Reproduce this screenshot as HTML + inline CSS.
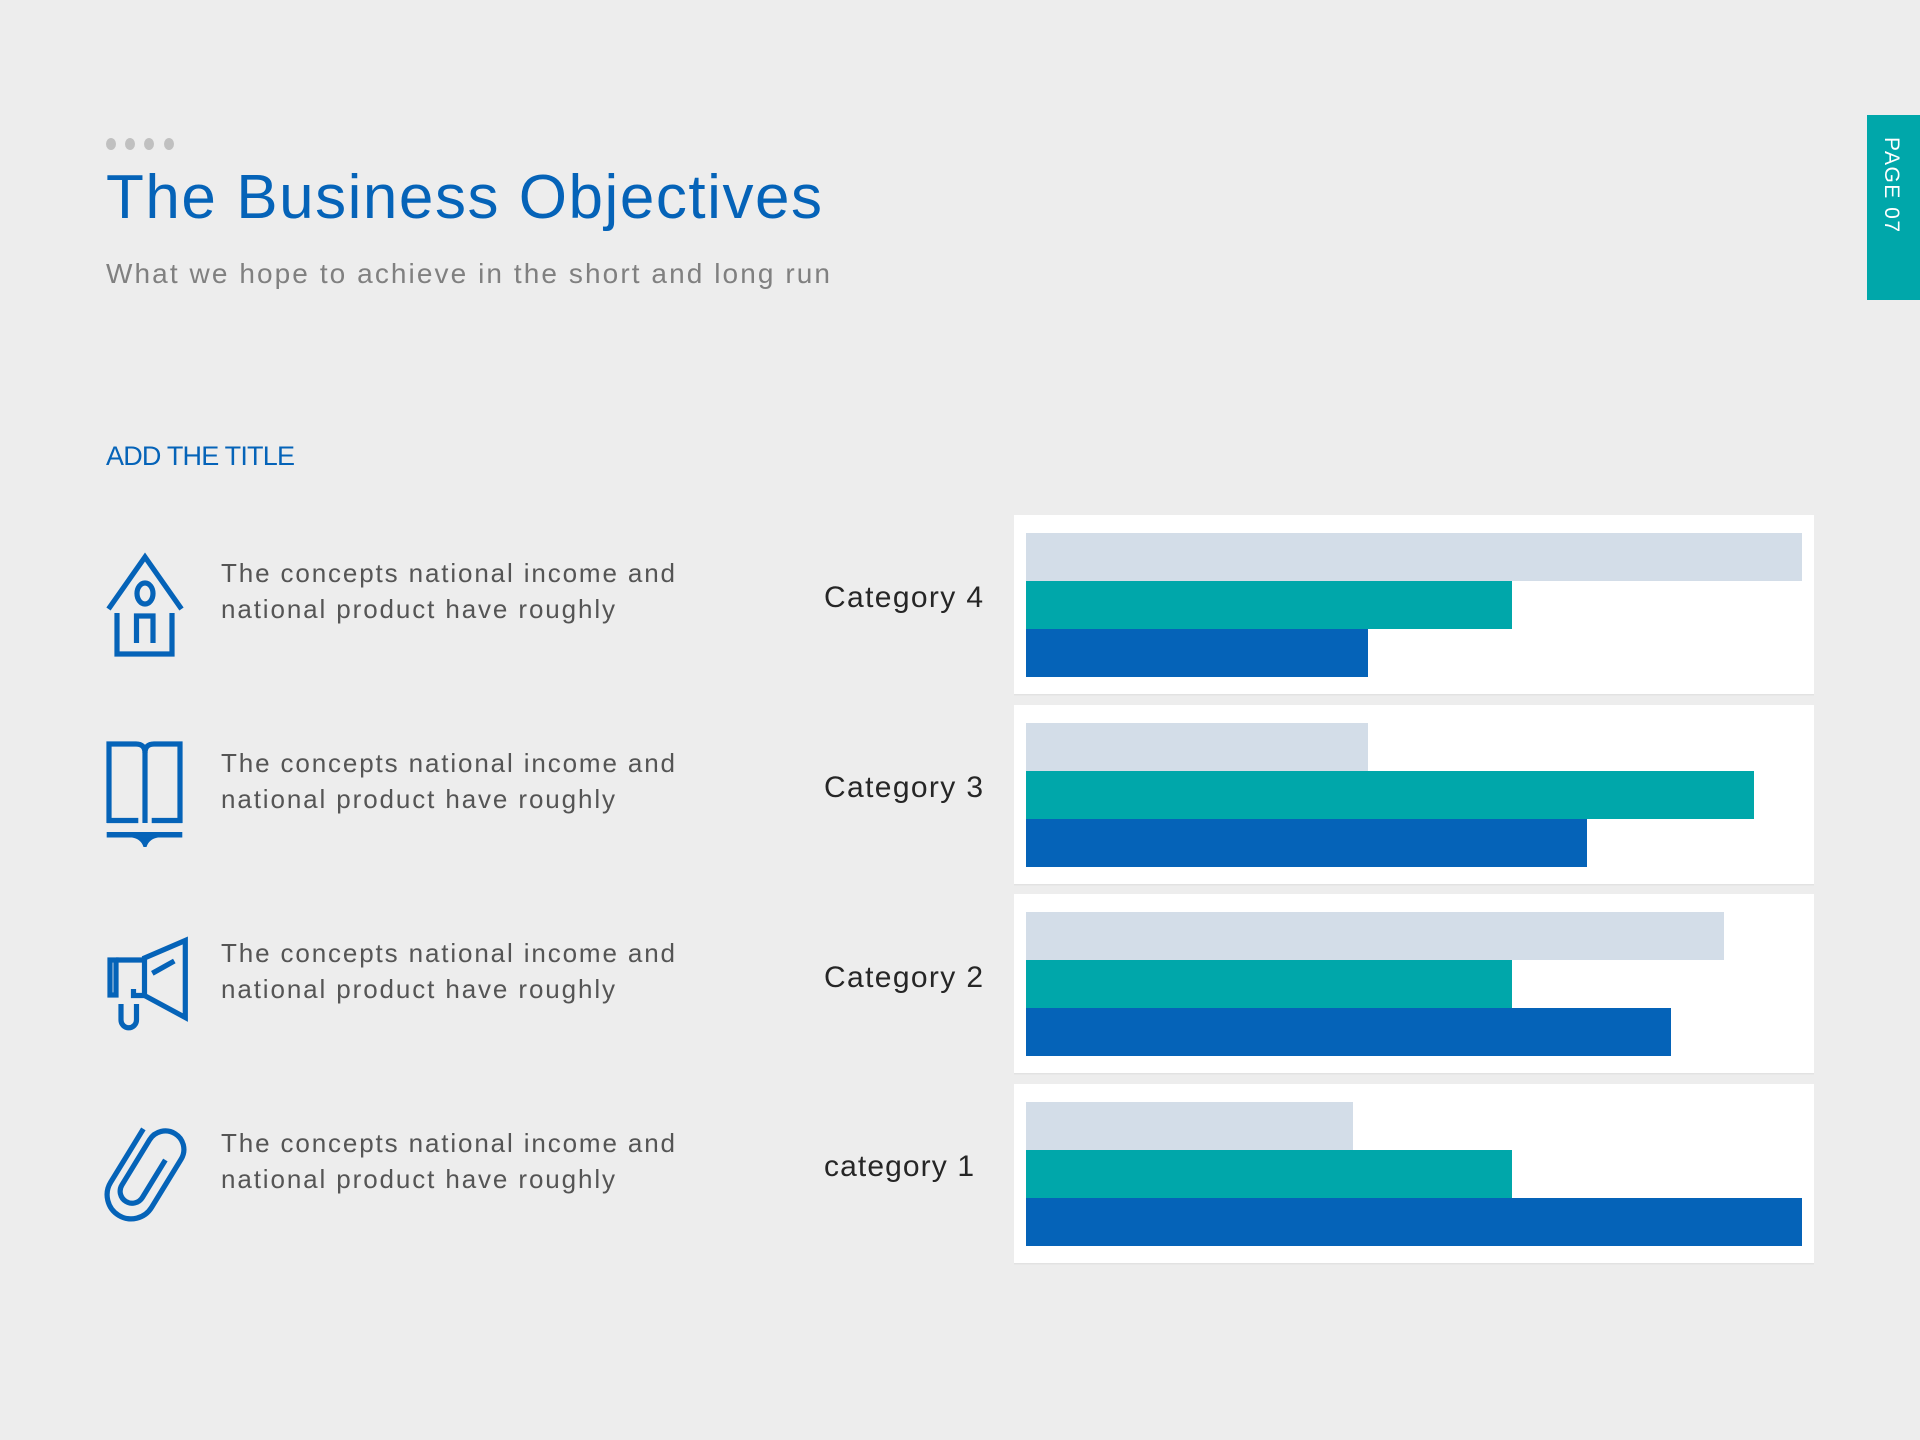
<!DOCTYPE html>
<html>
<head>
<meta charset="utf-8">
<style>
html,body{margin:0;padding:0;background:#ededed;width:1920px;height:1440px;overflow:hidden}
svg{display:block}
</style>
</head>
<body>
<svg width="1920" height="1440" viewBox="0 0 1920 1440" xmlns="http://www.w3.org/2000/svg" font-family="'Liberation Sans', sans-serif">
  <rect x="0" y="0" width="1920" height="1440" fill="#ededed"/>

  <!-- dots -->
  <g fill="#c0c0c0">
    <ellipse cx="111" cy="144" rx="5" ry="6"/>
    <ellipse cx="130" cy="144" rx="5" ry="6"/>
    <ellipse cx="149" cy="144" rx="5" ry="6"/>
    <ellipse cx="169" cy="144" rx="5" ry="6"/>
  </g>

  <!-- title -->
  <text x="106" y="218" font-size="62" fill="#0563b8" textLength="716" lengthAdjust="spacing">The Business Objectives</text>
  <text x="106" y="283" font-size="28" fill="#808080" textLength="724" lengthAdjust="spacing">What we hope to achieve in the short and long run</text>
  <text x="106" y="465" font-size="27" fill="#0563b8" textLength="189" lengthAdjust="spacing">ADD THE TITLE</text>

  <!-- page tab -->
  <rect x="1867" y="115" width="53" height="185" fill="#00a7aa"/>
  <text transform="translate(1885,137) rotate(90)" font-size="21" fill="#ffffff" textLength="95" lengthAdjust="spacing">PAGE 07</text>

  <!-- body texts -->
  <g font-size="26" fill="#555555">
    <text x="221" y="582" textLength="454" lengthAdjust="spacing">The concepts national income and</text>
    <text x="221" y="618" textLength="394" lengthAdjust="spacing">national product have roughly</text>
    <text x="221" y="772" textLength="454" lengthAdjust="spacing">The concepts national income and</text>
    <text x="221" y="808" textLength="394" lengthAdjust="spacing">national product have roughly</text>
    <text x="221" y="962" textLength="454" lengthAdjust="spacing">The concepts national income and</text>
    <text x="221" y="998" textLength="394" lengthAdjust="spacing">national product have roughly</text>
    <text x="221" y="1152" textLength="454" lengthAdjust="spacing">The concepts national income and</text>
    <text x="221" y="1188" textLength="394" lengthAdjust="spacing">national product have roughly</text>
  </g>

  <!-- icons -->
  <g fill="none" stroke="#0563b8" stroke-width="5.2">
    <!-- house -->
    <polyline points="108.5,609 145,557 181.5,609" stroke-linejoin="miter"/>
    <polyline points="117,613 117,654 172,654 172,613" stroke-linejoin="miter"/>
    <ellipse cx="145" cy="593.5" rx="8" ry="10.5"/>
    <polyline points="136.5,643 136.5,616 153,616 153,643"/>

    <!-- book -->
    <path d="M109,823 L109,744 L136,744 Q145,744 145,753 Q145,744 154,744 L180,744 L180,823"/>
    <line x1="145" y1="752" x2="145" y2="823"/>
    <line x1="107" y1="820.5" x2="138.3" y2="820.5"/>
    <line x1="151.7" y1="820.5" x2="182.3" y2="820.5"/>

    <!-- megaphone -->
    <rect x="110" y="960" width="6" height="35"/>
    <line x1="116" y1="960" x2="146" y2="960"/>
    <polyline points="133.5,989 133.5,995.5 146,995.5"/>
    <polygon points="144.5,958 185.3,940.5 185.3,1017.5 144.5,995.5" stroke-linejoin="miter"/>
    <line x1="152.3" y1="973.3" x2="174.3" y2="961"/>
    <path d="M121,1004 L121,1020 A7.75,7.75 0 0 0 136.5,1020 L136.5,1004"/>

    <!-- paperclip -->
    <g transform="translate(144.5,1173) rotate(31.5)">
      <path d="M-24,-37 L-24,25.6 A24,24 0 0 0 24,25.6 L24,-31 A18.5,18.5 0 0 0 -13,-31 L-13,22 A12,12 0 0 0 11,22 L11,-22"/>
    </g>
  </g>
  <!-- book base -->
  <path d="M106.7,832 L182.3,832 L182.3,837.5 L158,837.5 Q149,839 146.5,847 L143.5,847 Q141,839 132,837.5 L106.7,837.5 Z" fill="#0563b8"/>

  <!-- category labels -->
  <g font-size="30" fill="#262626">
    <text x="824" y="607" textLength="159" lengthAdjust="spacing">Category 4</text>
    <text x="824" y="797" textLength="159" lengthAdjust="spacing">Category 3</text>
    <text x="824" y="987" textLength="159" lengthAdjust="spacing">Category 2</text>
    <text x="824" y="1176" textLength="150" lengthAdjust="spacing">category 1</text>
  </g>

  <!-- panels -->
  <g>
    <rect x="1014" y="515" width="800" height="180" fill="#ffffff"/>
    <rect x="1014" y="694" width="800" height="1.5" fill="#e2e2e2"/>
    <rect x="1014" y="705" width="800" height="180" fill="#ffffff"/>
    <rect x="1014" y="884" width="800" height="1.5" fill="#e2e2e2"/>
    <rect x="1014" y="894" width="800" height="180" fill="#ffffff"/>
    <rect x="1014" y="1073" width="800" height="1.5" fill="#e2e2e2"/>
    <rect x="1014" y="1084" width="800" height="180" fill="#ffffff"/>
    <rect x="1014" y="1263" width="800" height="1.5" fill="#e2e2e2"/>
  </g>

  <!-- bars -->
  <!-- Category 4 -->
  <rect x="1026" y="533" width="776" height="48" fill="#d3dde8"/>
  <rect x="1026" y="581" width="486" height="48" fill="#00a7aa"/>
  <rect x="1026" y="629" width="342" height="48" fill="#0563b8"/>
  <!-- Category 3 -->
  <rect x="1026" y="723" width="342" height="48" fill="#d3dde8"/>
  <rect x="1026" y="771" width="728" height="48" fill="#00a7aa"/>
  <rect x="1026" y="819" width="561" height="48" fill="#0563b8"/>
  <!-- Category 2 -->
  <rect x="1026" y="912" width="698" height="48" fill="#d3dde8"/>
  <rect x="1026" y="960" width="486" height="48" fill="#00a7aa"/>
  <rect x="1026" y="1008" width="645" height="48" fill="#0563b8"/>
  <!-- category 1 -->
  <rect x="1026" y="1102" width="327" height="48" fill="#d3dde8"/>
  <rect x="1026" y="1150" width="486" height="48" fill="#00a7aa"/>
  <rect x="1026" y="1198" width="776" height="48" fill="#0563b8"/>
</svg>
</body>
</html>
